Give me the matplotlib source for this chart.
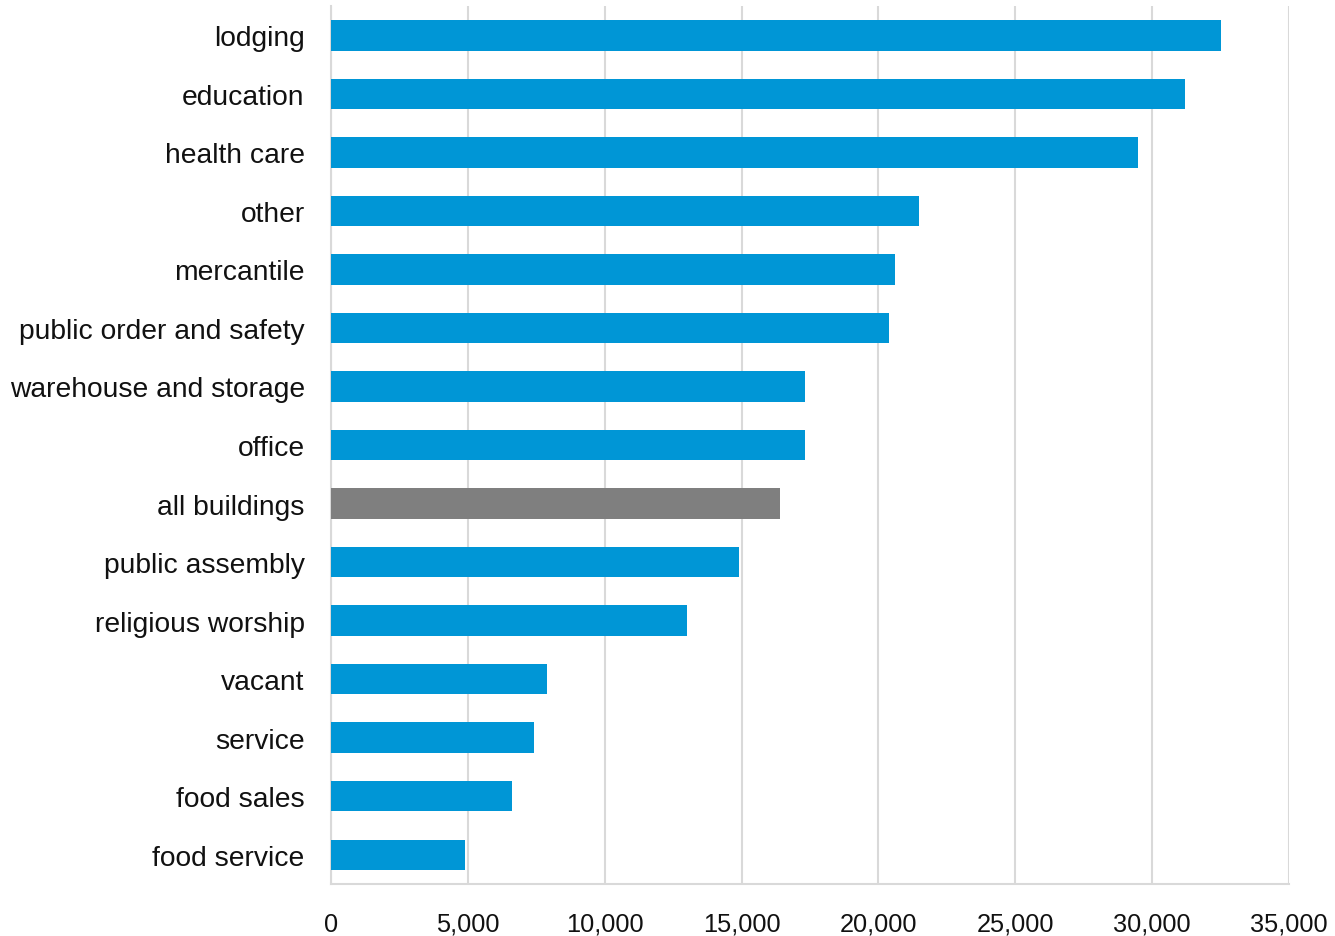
import matplotlib
matplotlib.use("Agg")
import matplotlib.pyplot as plt
from matplotlib.ticker import FuncFormatter

categories = ["lodging", "education", "health care", "other", "mercantile",
              "public order and safety", "warehouse and storage", "office",
              "all buildings", "public assembly", "religious worship", "vacant",
              "service", "food sales", "food service"]
values = [32500, 31200, 29500, 21500, 20600, 20400, 17300, 17300,
          16400, 14900, 13000, 7900, 7400, 6600, 4900]
highlight = "all buildings"
xticks = [0, 5000, 10000, 15000, 20000, 25000, 30000, 35000]

plt.rcParams['font.family'] = ['Liberation Sans', 'DejaVu Sans']

fig = plt.figure(figsize=(13.35, 9.37), dpi=100)
ax = fig.add_axes([0.248, 0.0555, 0.7175, 0.937])

blue = "#0096D6"
gray = "#7F7F7F"
colors = [gray if c == highlight else blue for c in categories]
ypos = list(range(len(categories)))
ax.barh(ypos, values, height=0.52, color=colors, zorder=3)
ax.set_ylim(len(categories) - 0.5, -0.5)
ax.set_yticks(ypos)
ax.set_yticklabels(categories, fontsize=20.3, color="#111111")
ax.set_xlim(0, 35000)
ax.set_xticks(xticks)
ax.xaxis.set_major_formatter(FuncFormatter(lambda v, p: f"{int(v):,}"))
ax.tick_params(axis='x', labelsize=18.3, colors="#111111", length=0, pad=20)
ax.tick_params(axis='y', length=0, pad=19)
ax.grid(axis='x', color="#d9d9d9", linewidth=1.5, zorder=0)
for s in ["top", "right"]:
    ax.spines[s].set_visible(False)
for s in ["left", "bottom"]:
    ax.spines[s].set_color("#d9d9d9")
    ax.spines[s].set_linewidth(1.5)

fig.savefig("out.png", dpi=100)
